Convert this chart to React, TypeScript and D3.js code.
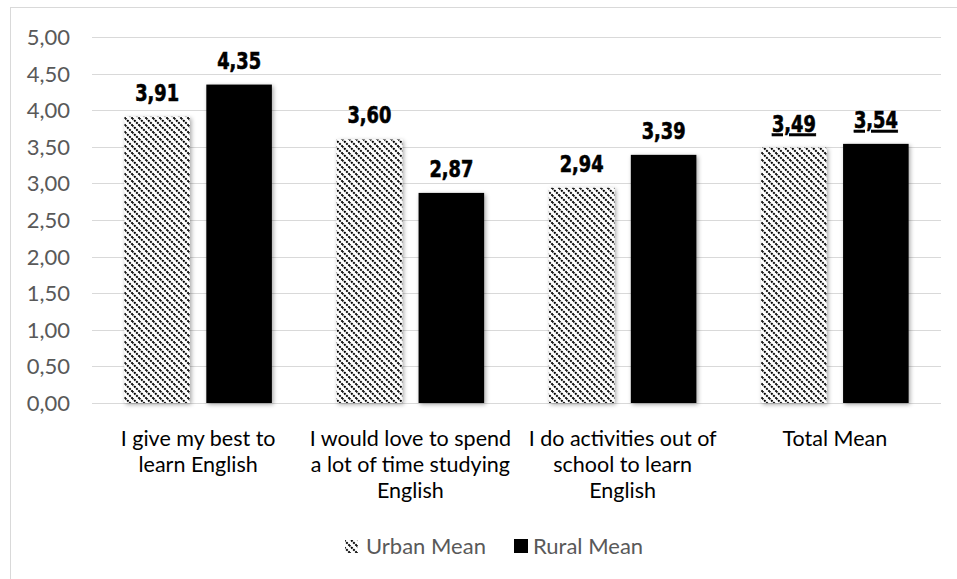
import React from "react";
import * as d3 from "d3";

const categories: string[][] = [
  ["I give my best to", "learn English"],
  ["I would love to spend", "a lot of time studying", "English"],
  ["I do activities out of", "school to learn", "English"],
  ["Total Mean"],
];
const seriesNames = ["Urban Mean", "Rural Mean"];
const urbanValues = [3.91, 3.6, 2.94, 3.49];
const ruralValues = [4.35, 2.87, 3.39, 3.54];
const yTicks = [0, 0.5, 1, 1.5, 2, 2.5, 3, 3.5, 4, 4.5, 5];

const W = 957;
const H = 579;
const left = 92;
const right = 941;
const top = 37;
const bottom = 403;

const fmt = (v: number) => v.toFixed(2).replace(".", ",");

export default function App() {
  const catIdx = categories.map((_, i) => String(i));
  const x0 = d3.scaleBand().domain(catIdx).range([left, right]).padding(0);
  const bw0 = x0.bandwidth();
  const x1 = d3
    .scaleBand()
    .domain(seriesNames)
    .range([bw0 * 0.1525, bw0 * 0.8475])
    .paddingInner(0.2)
    .paddingOuter(0);
  const y = d3.scaleLinear().domain([0, 5]).range([bottom, top]);
  const values = [urbanValues, ruralValues];
  const fills = ["url(#diagPat)", "#000"];
  const axisFont = "Lato, 'Open Sans', sans-serif";
  const labelFont = "'DejaVu Sans Condensed', 'Liberation Sans Narrow', sans-serif";

  return (
    <svg
      width={W}
      height={H}
      style={{ position: "fixed", left: 0, top: 0, background: "#fff" }}
    >
      <defs>
        <pattern id="diagPat" patternUnits="userSpaceOnUse" width="7" height="7">
          <rect width="7" height="7" fill="#fff" />
          <path
            d="M-1,-1 L8,8 M-4.5,2.5 L0.5,7.5 M2.5,-4.5 L7.5,0.5"
            stroke="#000"
            strokeWidth="2"
            strokeDasharray="2 1"
          />
        </pattern>
        <filter id="shadow" x="-20%" y="-20%" width="140%" height="140%">
          <feDropShadow dx="1.5" dy="1.5" stdDeviation="2" floodColor="#000" floodOpacity="0.35" />
        </filter>
      </defs>
      <rect x={10.5} y={7.5} width={W + 20} height={H + 20} fill="#fff" stroke="#d9d9d9" strokeWidth={1} />
      {yTicks.map((t) => (
        <g key={t}>
          <line x1={left} x2={right} y1={Math.round(y(t)) + 0.5} y2={Math.round(y(t)) + 0.5} stroke="#d9d9d9" strokeWidth={1} />
          <text
            x={70}
            y={y(t) + 8}
            textAnchor="end"
            fontFamily={axisFont}
            fontSize={22}
            fill="#595959"
          >
            {fmt(t)}
          </text>
        </g>
      ))}
      {categories.map((lines, i) => (
        <g key={i}>
          {seriesNames.map((s, si) => {
            const v = values[si][i];
            const bx = (x0(String(i)) as number) + (x1(s) as number);
            const by = y(v);
            return (
              <g key={s}>
                <rect
                  x={bx}
                  y={by}
                  width={x1.bandwidth()}
                  height={y(0) - by}
                  fill={fills[si]}
                  filter="url(#shadow)"
                />
                <text
                  transform={`translate(${bx + x1.bandwidth() / 2},${by - 16}) scale(0.86,1)`}
                  textAnchor="middle"
                  fontFamily={labelFont}
                  fontWeight="bold"
                  fontSize={23}
                  fill="#000"
                  stroke="#000"
                  strokeWidth={0.6}
                  textDecoration={i === categories.length - 1 ? "underline" : undefined}
                >
                  {fmt(v)}
                </text>
              </g>
            );
          })}
          {lines.map((ln, li) => (
            <text
              key={li}
              x={(x0(String(i)) as number) + bw0 / 2}
              y={446 + li * 26}
              textAnchor="middle"
              fontFamily={axisFont}
              fontSize={21.5}
              fill="#000"
            >
              {ln}
            </text>
          ))}
        </g>
      ))}
      <g>
        <rect x={345} y={540} width={13} height={13} fill="url(#diagPat)" />
        <text x={366} y={554} fontFamily={axisFont} fontSize={22} fill="#595959">
          {seriesNames[0]}
        </text>
        <rect x={514} y={539} width={14} height={14} fill="#000" />
        <text x={533} y={554} fontFamily={axisFont} fontSize={22} fill="#595959">
          {seriesNames[1]}
        </text>
      </g>
    </svg>
  );
}
